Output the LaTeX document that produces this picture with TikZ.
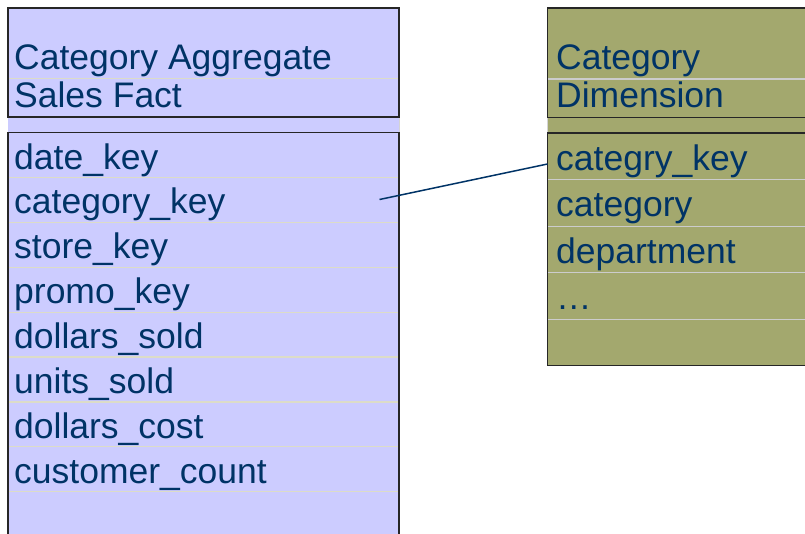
\documentclass[tikz,border=0pt]{standalone}
\usepackage{fontspec}
\setmainfont{Liberation Sans}
\definecolor{factfill}{HTML}{CCCCFF}
\definecolor{dimfill}{HTML}{A3A86E}
\definecolor{ink}{HTML}{003366}
\definecolor{factrule}{HTML}{DCDCC8}
\definecolor{dimrule}{HTML}{CCCCCC}
\definecolor{bandside}{HTML}{D4D4D4}

\begin{document}
\begin{tikzpicture}[x=1pt,y=-1pt,
  fieldtext/.style={anchor=base west, inner sep=0pt, text=ink,
    font=\fontsize{35.5}{40}\selectfont},
  tableframe/.style={draw=black!85, line width=1.6pt},
  rowrule/.style={line width=1.3pt},
  keyrow/.style={inner sep=0pt, minimum width=260pt, minimum height=46.6pt,
    anchor=north west},
  link/.style={draw=ink, line width=1.5pt}]
\useasboundingbox (0,0) rectangle (805,533);
\clip (0,0) rectangle (805,533);

% ---------- fact table ----------
\fill[factfill] (8,8) rectangle (399,560);
\draw[factrule, rowrule] (8,78.3) -- (399,78.3);
\foreach \k in {0,...,7}
  \draw[factrule, rowrule] (8,177.6+44.85*\k) -- (399,177.6+44.85*\k);
\draw[bandside, line width=1pt] (399,117) -- (399,132.5);
\draw[tableframe] (8,8) rectangle (399,117);
\draw[tableframe] (8,132.5) rectangle (399,570);

\node[fieldtext] (fhead1) at (14,69.6) {Category Aggregate};
\node[fieldtext] (fhead2) at (14,107.6) {Sales Fact};
\node[fieldtext] (f1) at (14,169.0) {date\_key};
\node[fieldtext] (f2) at (14,213.9) {category\_key};
\node[fieldtext] (f3) at (14,258.7) {store\_key};
\node[fieldtext] (f4) at (14,303.6) {promo\_key};
\node[fieldtext] (f5) at (14,348.4) {dollars\_sold};
\node[fieldtext] (f6) at (14,393.3) {units\_sold};
\node[fieldtext] (f7) at (14,438.1) {dollars\_cost};
\node[fieldtext] (f8) at (14,483.0) {customer\_count};
\coordinate (fkey) at (379.5,199.5);

% ---------- dimension table ----------
\fill[dimfill] (547.5,8) rectangle (820,366);
\draw[dimrule, rowrule] (547.5,79) -- (820,79);
\foreach \k in {1,...,4}
  \draw[dimrule, rowrule] (547.5,133+46.6*\k) -- (820,133+46.6*\k);
\draw[bandside, line width=1pt] (547.5,117.5) -- (547.5,133);
\draw[tableframe] (547.5,8) rectangle (830,117.5);
\draw[tableframe] (547.5,133) rectangle (830,365.5);

\node[keyrow] (ckrow) at (547.5,133) {};
\node[fieldtext] (dhead1) at (556,69.6) {Category};
\node[fieldtext] (dhead2) at (556,107.6) {Dimension};
\node[fieldtext] (d1) at (556,170.5) {categry\_key};
\node[fieldtext] (d2) at (556,216.9) {category};
\node[fieldtext] (d3) at (556,263.4) {department};
\node[fieldtext] (d4) at (556,309.9) {…};

% ---------- key link ----------
\draw[link] (fkey) -- ([yshift=-7.5pt]ckrow.west);
\end{tikzpicture}
\end{document}
